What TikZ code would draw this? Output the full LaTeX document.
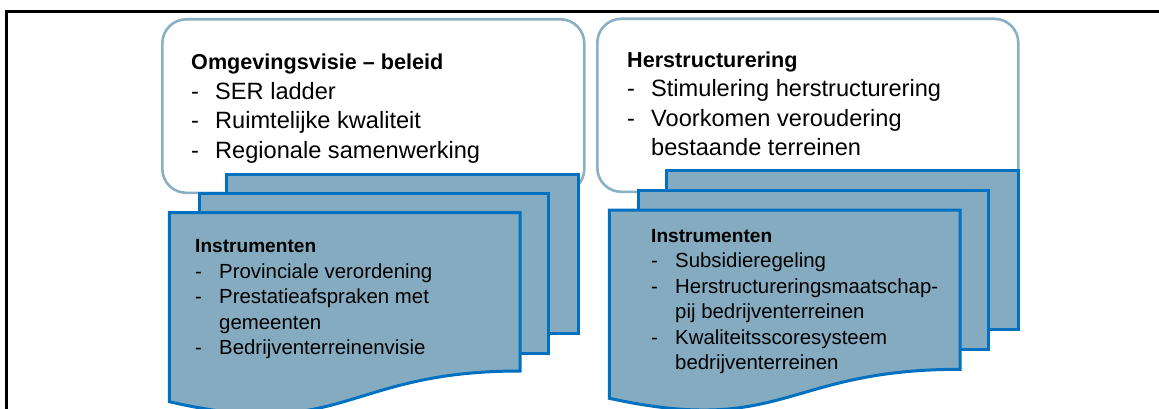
\documentclass[tikz,border=0pt]{standalone}
\usepackage{fontspec}
\setmainfont{Liberation Sans}
\usepackage{tikz}

\definecolor{policyline}{HTML}{8AB0C4}
\definecolor{sheetblue}{HTML}{0070C0}
\definecolor{sheetfill}{HTML}{85ABC0}

\newcommand{\dashitem}[1]{\makebox[24pt][l]{-}#1}
\newcommand{\contline}[1]{\hspace*{24pt}#1}

\begin{document}
\begin{tikzpicture}[x=1pt,y=-1pt,
    policy/.style={draw=policyline,line width=2.6pt,fill=white,rounded corners=24pt,anchor=north west,inner sep=0pt},
    sheet/.style={draw=sheetblue,line width=3pt,fill=sheetfill},
    toptext/.style={anchor=north west,inner sep=0pt,align=left,font=\fontsize{23.6}{29.6}\selectfont},
    sheettext/.style={anchor=north west,inner sep=0pt,align=left,font=\fontsize{20.4}{25.5}\selectfont}]
    \useasboundingbox (0,0) rectangle (1159,409);
    \draw[line width=2.2pt] (6.5,409) coordinate (frame bottom) -- (6.5,11.5) -- (1159,11.5) coordinate (frame right);

    % beleid
    \node[policy,minimum width=422pt,minimum height=173.5pt] (visie box) at (161,18) {};
    \node[sheet,anchor=north west,minimum width=352pt,minimum height=159pt] (visie back) at (225,172.7) {};
    \node[sheet,anchor=north west,minimum width=348.5pt,minimum height=159.5pt] (visie middle) at (198.3,192.3) {};
    \draw[sheet] (169.3,212.7) coordinate (visie front) -- (520,212.7) -- (520,371)
      .. controls (344.6,371) and (344.6,442) .. (169.3,401.7) -- cycle;
    \node[toptext] (visie text) at (191,53.6) {%
      {\bfseries\fontsize{21.6}{29.6}\selectfont Omgevingsvisie – beleid}\\
      \dashitem{SER ladder}\\
      \dashitem{Ruimtelijke kwaliteit}\\
      \dashitem{Regionale samenwerking}};
    \node[sheettext] (visie instrumenten) at (195,239.6) {%
      {\bfseries\fontsize{19.1}{25.5}\selectfont Instrumenten}\\
      \dashitem{Provinciale verordening}\\
      \dashitem{Prestatieafspraken met}\\
      \contline{gemeenten}\\
      \dashitem{Bedrijventerreinenvisie}};

    % herstructurering
    \node[policy,minimum width=421pt,minimum height=173pt] (herstructurering box) at (596,17.5) {};
    \node[sheet,anchor=north west,minimum width=352pt,minimum height=159pt] (herstructurering back) at (665,169.3) {};
    \node[sheet,anchor=north west,minimum width=349.4pt,minimum height=159pt] (herstructurering middle) at (637.3,189.3) {};
    \draw[sheet] (609.3,210) coordinate (herstructurering front) -- (960,210) -- (960,369.3)
      .. controls (784.6,369.3) and (784.6,436.5) .. (609.3,398.3) -- cycle;
    \node[toptext] (herstructurering text) at (627,51.2) {%
      {\bfseries\fontsize{21.6}{29.6}\selectfont Herstructurering}\\
      \dashitem{Stimulering herstructurering}\\
      \dashitem{Voorkomen veroudering}\\
      \contline{bestaande terreinen}};
    \node[sheettext] (herstructurering instrumenten) at (651,229) {%
      {\bfseries\fontsize{19.1}{25.5}\selectfont Instrumenten}\\
      \dashitem{Subsidieregeling}\\
      \dashitem{Herstructureringsmaatschap-}\\
      \contline{pij bedrijventerreinen}\\
      \dashitem{Kwaliteitsscoresysteem}\\
      \contline{bedrijventerreinen}};
\end{tikzpicture}
\end{document}
